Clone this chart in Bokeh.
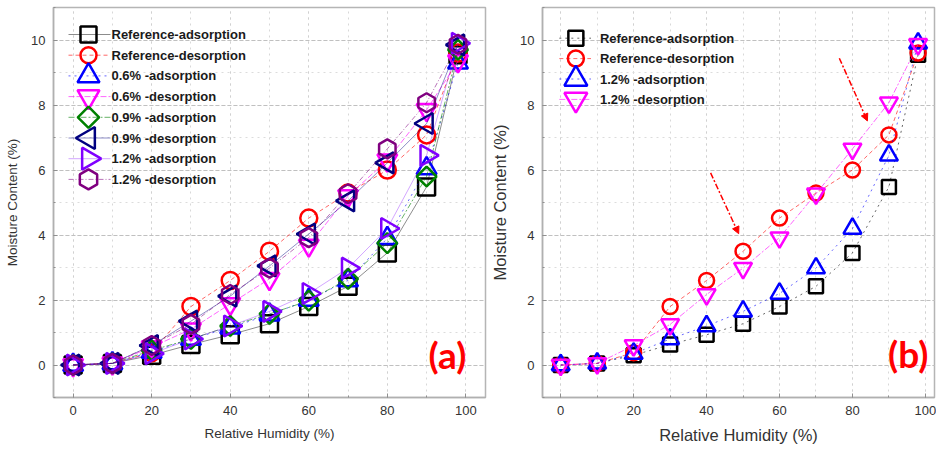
import math
from bokeh.plotting import figure
from bokeh.models import (Range1d, SingleIntervalTicker, Label, Arrow, NormalHead,
                          ColumnDataSource)
from bokeh.core.properties import value
from bokeh.layouts import row
from bokeh.embed import file_html
from bokeh.resources import INLINE

# ---------------- data ----------------
RH = [0, 10, 20, 30, 40, 50, 60, 70, 80, 90, 98]
ref_ads = [0, 0.05, 0.30, 0.63, 0.93, 1.27, 1.80, 2.42, 3.45, 5.48, 9.55]
ref_des = [0, 0.05, 0.38, 1.80, 2.60, 3.50, 4.52, 5.29, 6.00, 7.08, 9.60]
ads_06 = [0, 0.05, 0.40, 0.80, 1.15, 1.55, 2.00, 2.60, 3.90, 6.05, 9.30]
des_06 = [0, 0.05, 0.55, 1.10, 1.88, 2.65, 3.68, 5.20, 6.30, 7.85, 9.35]
ads_09 = [0, 0.05, 0.45, 0.80, 1.20, 1.57, 1.98, 2.65, 3.75, 5.80, 9.70]
des_09 = [0, 0.05, 0.60, 1.35, 2.12, 3.05, 4.03, 5.05, 6.22, 7.43, 9.85]
ads_12 = [0, 0.05, 0.35, 0.80, 1.20, 1.65, 2.20, 2.98, 4.20, 6.45, 9.90]
des_12 = [0, 0.05, 0.60, 1.25, 2.17, 2.98, 3.92, 5.27, 6.65, 8.07, 9.87]

labels_a = ["Reference-adsorption", "Reference-desorption", "0.6% -adsorption", "0.6% -desorption",
            "0.9% -adsorption", "0.9% -desorption", "1.2% -adsorption", "1.2% -desorption"]
series_a = [ref_ads, ref_des, ads_06, des_06, ads_09, des_09, ads_12, des_12]
labels_b = ["Reference-adsorption", "Reference-desorption", "1.2% -adsorption", "1.2% -desorption"]
series_b = [ref_ads, ref_des, ads_12, des_12]

# styles: (marker, angle, size, legend size, color, line_dash, line_alpha)
styles_a = [
    ("square", 0, 17, 16, "#000000", "solid", 0.45),
    ("circle", 0, 17, 16, "#ff0000", "4 3", 0.6),
    ("triangle", 0, 20, 22, "#0000ff", "dotted", 0.6),
    ("inverted_triangle", 0, 20, 22, "#ff00ff", "6 2", 0.6),
    ("square", math.pi / 4, 14, 15, "#008000", "6 2 2 2", 0.6),
    ("triangle", math.pi / 2, 21, 22, "#000080", "solid", 0.45),
    ("triangle", -math.pi / 2, 21, 22, "#8000ff", "solid", 0.35),
    ("hex", math.pi / 2, 19, 20, "#800080", "5 2 1 2", 0.55),
]
styles_b = [
    ("square", 0, 14, 15, "#000000", "dotted", 0.6),
    ("circle", 0, 15, 16, "#ff0000", "4 3", 0.6),
    ("triangle", 0, 18, 23, "#0000ff", "dotted", 0.6),
    ("inverted_triangle", 0, 18, 23, "#ff00ff", "6 2 2 2", 0.6),
]

TXT = "#333333"
H = 450
MB_TOP, MB_BOTTOM = 7, 53


def make_fig(width, mbl, mbr, xend, lab_size):
    p = figure(width=width, height=H, x_range=Range1d(-5, xend), y_range=Range1d(-1, 11),
               output_backend="svg", toolbar_location=None,
               min_border_left=mbl, min_border_right=mbr, min_border_top=MB_TOP,
               min_border_bottom=MB_BOTTOM)
    fw = width - mbl - mbr
    fh = H - MB_TOP - MB_BOTTOM
    # pixel-like ranges over the frame, used only for the hand-made legend
    p.extra_x_ranges = {"px": Range1d(0, fw)}
    p.extra_y_ranges = {"px": Range1d(fh, 0)}
    p.background_fill_color = "white"
    p.border_fill_color = "white"
    p.outline_line_color = "#b5b5b5"
    p.outline_line_width = 1.5
    p.xaxis.ticker = SingleIntervalTicker(interval=20, num_minor_ticks=2)
    p.yaxis.ticker = SingleIntervalTicker(interval=2, num_minor_ticks=2)
    for ax in (p.xaxis[0], p.yaxis[0]):
        ax.axis_line_color = "#b0b0b0"
        ax.axis_line_width = 1.5
        ax.major_tick_in = 4
        ax.major_tick_out = 0
        ax.minor_tick_in = 2
        ax.minor_tick_out = 0
        ax.major_tick_line_color = "#909090"
        ax.minor_tick_line_color = "#909090"
        ax.major_label_text_font = "Liberation Sans"
        ax.major_label_text_font_size = "13px"
        ax.major_label_text_color = TXT
        ax.major_label_standoff = 8
        ax.axis_label_text_font = "Liberation Sans"
        ax.axis_label_text_font_style = "normal"
        ax.axis_label_text_font_size = lab_size
        ax.axis_label_text_color = TXT
        ax.axis_label_standoff = 8
    p.xaxis.axis_label = "Relative Humidity (%)"
    p.yaxis.axis_label = "Moisture Content (%)"
    p.xgrid.grid_line_color = "#d0d0d0"
    p.xgrid.grid_line_dash = "dotted"
    p.xgrid.minor_grid_line_color = "#d8d8d8"
    p.xgrid.minor_grid_line_dash = "dotted"
    p.ygrid.grid_line_color = "#c0c0c0"
    p.ygrid.grid_line_dash = "4 2"
    p.ygrid.minor_grid_line_color = "#dcdcdc"
    p.ygrid.minor_grid_line_dash = "dotted"
    return p


def add_series(p, series, styles):
    for ys, st in zip(series, styles):
        marker, ang, size, lsize, col, dash, la = st
        src = ColumnDataSource(dict(x=RH, y=ys))
        p.line("x", "y", source=src, line_color=col, line_dash=dash, line_width=1, line_alpha=la)
        p.scatter("x", "y", source=src, marker=marker, angle=ang, size=size,
                  fill_alpha=0, line_color=col, line_width=2.5)


def add_legend(p, labels, styles, y0, pitch, lx0, lx1, mx, tx):
    kw = dict(x_range_name="px", y_range_name="px")
    for i, (lab, st) in enumerate(zip(labels, styles)):
        marker, ang, size, lsize, col, dash, la = st
        yy = y0 + pitch * i
        p.line([lx0, lx1], [yy, yy], line_color=col, line_dash=dash, line_width=1,
               line_alpha=la, **kw)
        p.scatter([mx], [yy], marker=marker, angle=ang, size=lsize, fill_alpha=0,
                  line_color=col, line_width=2.5, **kw)
        p.text([tx], [yy], text=[lab], text_font=value("Liberation Sans"),
               text_font_style="bold", text_font_size="13px", text_color="#1a1a1a",
               text_baseline="middle", text_align="left", **kw)


# panel (a)
pa = make_fig(488, 53, 3, 105, "13.5px")
add_series(pa, series_a, styles_a)
add_legend(pa, labels_a, styles_a, 27, 20.7, 15, 57, 35, 58)
pa.add_layout(Label(x=95.3, y=0.33, text="(a)", text_align="center", text_baseline="middle",
                    text_font="Lato", text_font_style="bold", text_font_size="37px",
                    text_color="#ff0000"))

# panel (b)
pb = make_fig(448, 50, 2, 102.5, "16.5px")
add_series(pb, series_b, styles_b)
add_legend(pb, labels_b, styles_b, 30.7, 20.4, 17, 49, 33.7, 58)
pb.add_layout(Label(x=95.3, y=0.35, text="(b)", text_align="center", text_baseline="middle",
                    text_font="Lato", text_font_style="bold", text_font_size="37px",
                    text_color="#ff0000"))
arrows = [(41.1, 5.91, 48.8, 4.04), (76.4, 9.44, 84.1, 7.51)]
for xs, ys, xe, ye in arrows:
    pb.add_layout(Arrow(end=NormalHead(size=7, fill_color="#ff0000", line_color="#ff0000"),
                        x_start=xs, y_start=ys, x_end=xe, y_end=ye, line_color="#ff0000",
                        line_width=1.5, line_dash="6 2 2 2"))

layout = row(pa, pb)
open("out.html", "w").write(file_html(layout, INLINE))
